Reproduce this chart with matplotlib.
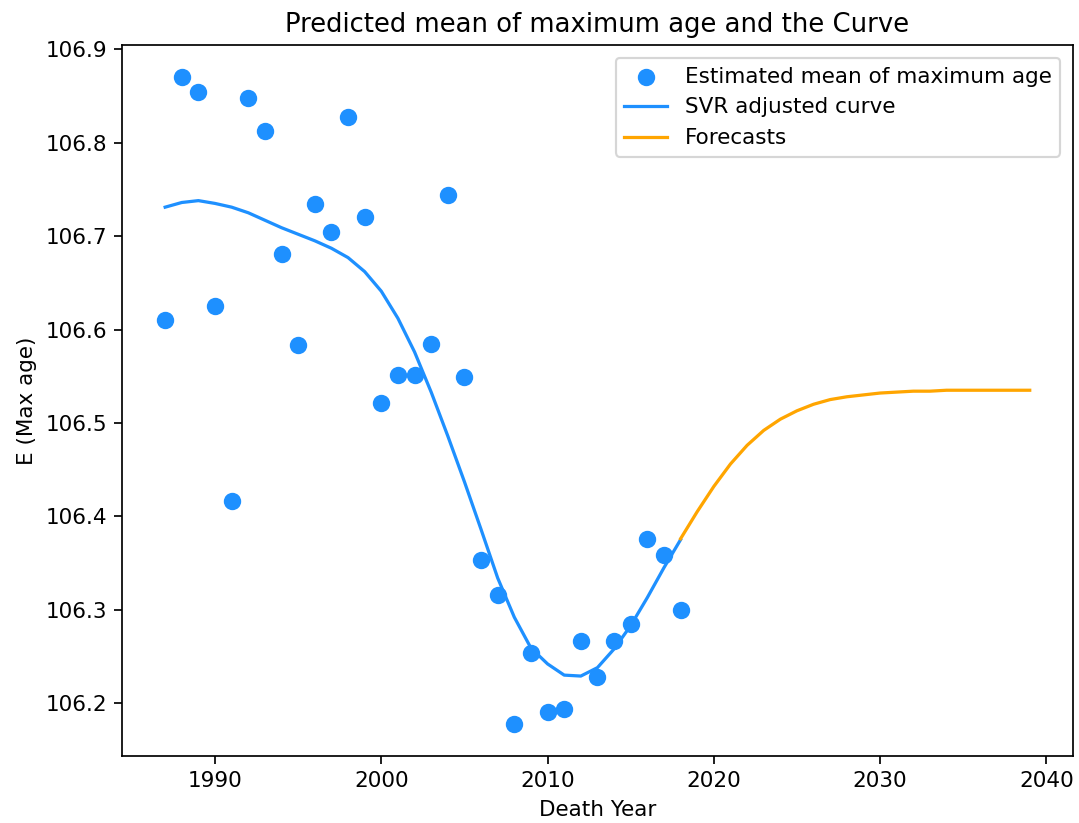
import numpy as np
import matplotlib
matplotlib.use("Agg")
import matplotlib.pyplot as plt

# Observed yearly estimates
years = list(range(1987, 2019))
mean_max_age = [
    106.610, 106.870, 106.854, 106.625, 106.416, 106.848, 106.813, 106.681,
    106.583, 106.734, 106.704, 106.827, 106.721, 106.521, 106.551, 106.551,
    106.585, 106.744, 106.549, 106.353, 106.316, 106.178, 106.254, 106.191,
    106.194, 106.267, 106.228, 106.267, 106.285, 106.376, 106.359, 106.300,
]

# SVR fitted curve over the observed years
svr_curve = [
    106.731, 106.736, 106.738, 106.735, 106.731, 106.725, 106.717, 106.709,
    106.702, 106.695, 106.687, 106.677, 106.662, 106.641, 106.612, 106.576,
    106.533, 106.486, 106.437, 106.386, 106.334, 106.292, 106.259, 106.242,
    106.230, 106.229, 106.238, 106.258, 106.283, 106.313, 106.345, 106.375,
]

# Forecasts from the last observed year onward
forecast_years = list(range(2018, 2040))
forecast_values = [
    106.376, 106.405, 106.432, 106.456, 106.476, 106.492, 106.504, 106.513,
    106.520, 106.525, 106.528, 106.530, 106.532, 106.533, 106.534, 106.534,
    106.535, 106.535, 106.535, 106.535, 106.535, 106.535,
]

dpi = 155
fig, ax = plt.subplots(figsize=(1079 / dpi, 823 / dpi), dpi=dpi)
fig.subplots_adjust(left=0.113, right=0.9944, bottom=0.0814, top=0.9453)

ax.scatter(years, mean_max_age, color="dodgerblue", s=50,
           label="Estimated mean of maximum age")
ax.plot(years, svr_curve, color="dodgerblue", label="SVR adjusted curve")
ax.plot(forecast_years, forecast_values, color="orange", label="Forecasts")

ax.set_title("Predicted mean of maximum age and the Curve")
ax.set_xlabel("Death Year")
ax.set_ylabel("E (Max age)")
ax.legend(loc="upper right", borderaxespad=0.6)

fig.savefig("out.png", dpi=dpi)
